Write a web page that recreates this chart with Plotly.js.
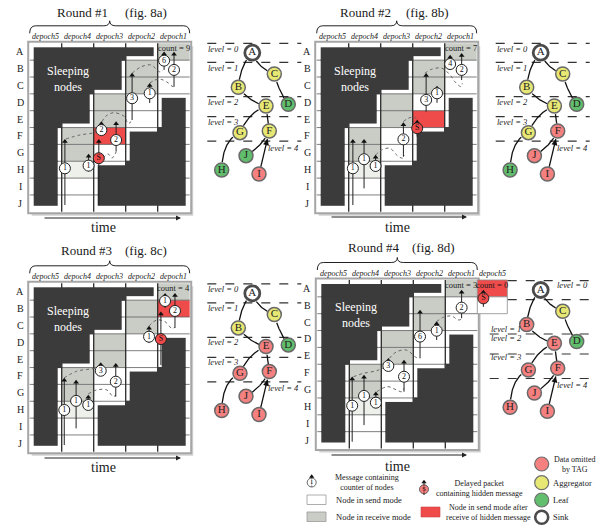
<!DOCTYPE html>
<html><head><meta charset="utf-8">
<script src="https://cdn.plot.ly/plotly-3.0.1.min.js"></script>
<style>html,body{margin:0;padding:0;background:#fff;overflow:hidden}</style>
</head><body><div id="chart" style="width:609px;height:529px"></div>
<script>
// ---------------- DATA ----------------
const rowLabels = ['A','B','C','D','E','F','G','H','I','J'];
const epochLabels = ['depoch5','depoch4','depoch3','depoch2','depoch1'];
const roundTitles = ['Round #1','Round #2','Round #3','Round #4'];
const figLabels = ['(fig. 8a)','(fig. 8b)','(fig. 8c)','(fig. 8d)'];
const counts = [9, 7, 4, 3];
// cell states per row (columns depoch5..depoch1): D sleeping, G receive, W send, R send after hidden msg, L light
const cells1 = ['DDDDG','DDDGW','DDDGW','DDGWD','DDGWD','DGRDD','DGWDD','DLDDD','DWDDD','DWDDD'];
const cells2 = ['DDDDG','DDDGW','DDDGW','DDGWD','DDGRD','DGWDD','DGWDD','DLDDD','DWDDD','DWDDD'];
const cells3 = ['DDDDG','DDDGR','DDDGW','DDGWD','DDGWD','DGWDD','DGWDD','DLDDD','DWDDD','DWDDD'];
const cells4 = ['DDDDG','DDDGW','DDDGW','DDGWD','DDGWD','DGWDD','DGWDD','DLDDD','DWDDD','DWDDD'];
const extraEpoch4 = 'depoch5';
const extraCells4 = ['R','W'];
const extraCount4 = 0;
// messages: [column, circle row, arrow-top row, line-bottom row, label]  (grid units)
const messages1 = [[4.20,1.03,0.50,1.58,'6'],[4.51,1.58,0.52,2.58,'2'],[3.20,3.26,1.76,4.55,'3'],[3.75,2.97,2.37,3.54,'1'],
  [2.24,5.15,4.65,5.32,'2'],[2.70,5.74,4.65,6.43,'2'],[2.16,6.82,5.70,9.60,'S'],[1.84,7.26,6.57,7.62,'1'],[1.10,7.42,5.70,9.60,'1']];
const messages2 = [[4.17,1.23,0.69,1.58,'4'],[4.53,1.58,0.59,2.18,'2'],[3.42,3.36,1.78,4.06,'3'],[3.76,2.97,2.53,3.53,'1'],
  [3.14,5.04,4.55,5.54,'S'],[2.71,5.70,4.71,6.73,'2'],[1.84,7.28,6.63,7.62,'1'],[1.48,6.88,5.70,8.61,'1'],[1.13,7.42,5.70,9.60,'1']];
const messages3 = [[4.23,1.05,0.59,1.47,'1'],[4.54,1.64,0.59,2.65,'2'],[3.73,3.17,2.53,3.54,'1'],[4.10,3.31,1.69,4.85,'S'],
  [2.22,5.19,4.71,5.44,'3'],[2.69,5.84,4.75,6.73,'2'],[1.83,7.22,6.63,7.52,'1'],[1.45,6.98,5.74,8.61,'1'],[1.08,7.52,5.62,9.60,'1']];
const messages4 = [[4.51,1.64,0.59,2.27,'2'],[3.73,3.01,2.47,3.56,'1'],[3.21,3.36,1.78,4.65,'6'],[2.22,5.10,4.65,5.34,'3'],
  [2.71,5.74,4.75,6.63,'2'],[1.46,6.88,5.64,8.61,'1'],[1.83,7.28,6.63,7.62,'1'],[1.09,7.46,5.74,9.60,'1'],[5.19,1.09,0.59,1.59,'S']];
// dotted aggregation flows (grid units)
const flows1 = [[[1.13,5.68],[1.57,5.44],[1.98,5.32],[2.13,5.2]],
  [[2.29,6.81],[2.45,6.57],[2.57,6.81],[2.70,6.45]],
  [[2.26,4.65],[2.39,4.31],[2.63,4.12],[2.97,4.36],[3.07,4.76],[3.17,4.65]],
  [[3.2,1.78],[3.49,1.39],[3.80,1.29],[4.06,1.69],[4.17,1.58]],
  [[3.75,2.37],[3.91,2.18],[4.11,2.14],[4.32,2.34],[4.48,2.57],[4.53,2.47]]];
const flows2 = [[[1.84,6.63],[2.03,6.33],[2.29,6.23],[2.50,6.63],[2.68,6.82],[2.74,6.63]],
  [[2.71,4.65],[2.86,4.45],[3.07,4.39],[3.13,4.55]],
  [[3.38,1.78],[3.59,1.54],[3.91,1.48],[4.17,1.88],[4.32,2.28],[4.51,2.57],[4.55,2.37]]];
const flows3 = [[[1.07,5.62],[1.47,5.22],[1.88,5.09],[2.15,5.03]],
  [[1.83,6.57],[2.09,6.33],[2.41,6.33],[2.61,6.73],[2.69,6.63]],
  [[3.73,2.53],[3.97,2.18],[4.23,2.28],[4.44,2.67],[4.54,2.61]]];
const flows4 = [[[1.13,5.74],[1.44,5.54],[1.86,5.38],[2.19,5.10]],
  [[1.86,6.63],[2.19,6.33],[2.48,6.53],[2.64,6.63],[2.71,6.43]],
  [[2.25,4.65],[2.48,4.26],[2.79,4.16],[3.05,4.55],[3.16,4.65]],
  [[3.73,2.47],[3.94,2.21],[4.20,2.14],[4.40,2.37],[4.51,2.33]]];
// trees
const nodeNames = ['A','B','C','D','E','F','G','H','I','J'];
const treeRoles1 = ['sink','agg','agg','leaf','agg','agg','agg','leaf','omit','leaf'];
const treeRoles2 = ['sink','agg','agg','leaf','agg','omit','agg','leaf','omit','omit'];
const treeRoles3 = ['sink','agg','agg','leaf','omit','omit','omit','omit','omit','omit'];
const treeRoles4 = ['sink','omit','agg','leaf','omit','omit','omit','omit','omit','omit'];
const treeEdges = [['B','A'],['C','A'],['D','C'],['E','B'],['G','E'],['F','E'],['H','G'],['J','F'],['I','F']];
const levelNames = ['level = 0','level = 1','level = 2','level = 3','level = 4'];
// legend
const legendCells = [['W','Node in send mode'],['G','Node in receive mode']];
const legendRoles = [['omit','Data omitted<br>by TAG'],['agg','Aggregator'],['leaf','Leaf'],['sink','Sink']];
const legendMessage = 'Message containing<br>counter of nodes';
const legendDelayed = 'Delayed packet<br>containing hidden message';
const legendRedCell = 'Node in send mode after<br>receive of hidden message';

// ---------------- LAYOUT / STYLE ----------------
const SERIF = '"Liberation Serif", "DejaVu Serif", serif';
const CW = 32, RH = 16.85, PAD = 4;
const COL = {G:'#c9cdc6', R:'#f04b4b', L:'#eef0eb', D:'#3b3b3b', W:'#ffffff'};
const ROLE = {sink:'#ffffff', agg:'#dede3a', leaf:'#1fa32e', omit:'#f04b4b'};
const PANELS = [
  {x0:29.7, y0:43.3, rowX:20, roundX:82, figX:146, titleY:12, timeX:103, timeY:227, arrowY:218, ax0:43, ax1:181},
  {x0:316.7, y0:43.3, rowX:307, roundX:365, figX:427, titleY:12, timeX:397, timeY:227, arrowY:217, ax0:330, ax1:467},
  {x0:29.7, y0:283.3, rowX:20, roundX:86, figX:146, titleY:250, timeX:103, timeY:467, arrowY:458, ax0:43, ax1:181},
  {x0:317.3, y0:280, rowX:307, roundX:373, figX:433, titleY:247, timeX:397, timeY:466, arrowY:455, ax0:330, ax1:467}
];
const CELLS = [cells1, cells2, cells3, cells4];
const MSGS = [messages1, messages2, messages3, messages4];
const FLOWS = [flows1, flows2, flows3, flows4];
const NODE_DX = [0,-14,22,36,13.7,17,-12.3,-30.6,6.7,-6.3];
const NODE_DY = [0,34.6,21.3,51.6,53.3,78.3,80,117.3,121.3,103];
const EDGE_CTRL = [[-12,12],[5,15],[27,40],[-2,50],[-4,60],[15.3,65.8],[-30,87.3],[9.4,94],[12,100]];
const LEVEL_Y = [-9.4, 9.6, 44, 64, 88.5];
const TREES = [
  {ax:252.3, ay:52.7, roles:treeRoles1, lx0:[-45,-45,-45,-45,-45], labels:[['L',-4],['L',15],['L',49],['L',69],['R',95]], lblL:-45},
  {ax:540.7, ay:52.7, roles:treeRoles2, lx0:[-45,-45,-45,-45,-45], labels:[['L',-4],['L',15],['L',49],['L',69],['R',95]], lblL:-45},
  {ax:252.3, ay:293.3, roles:treeRoles3, lx0:[-45,-45,-45,-45,-45], labels:[['L',-4],['L',15],['L',49],['L',69],['R',95]], lblL:-45},
  {ax:540.7, ay:290, roles:treeRoles4, lx0:[-33,-33,-51,-51,-51], labels:[['R',-5],['L',39],['L',48],['L',67],['R',95]], lblL:-51}
];

const shapes = [], anns = [], traces = [];
function rect(x0,y0,x1,y1,fill,lc,lw){shapes.push({type:'rect',xref:'x',yref:'y',x0,y0,x1,y1,fillcolor:fill,line:{color:lc||fill,width:lc?(lw||1):0},layer:'below'});}
function seg(x0,y0,x1,y1,c,w,dash){shapes.push({type:'line',xref:'x',yref:'y',x0,y0,x1,y1,line:{color:c,width:w,dash:dash||'solid'},layer:'below'});}
function txt(x,y,text,size,o){anns.push(Object.assign({x,y,xref:'x',yref:'y',text,showarrow:false,font:{size,color:'#1a1a1a',family:SERIF},xanchor:'center',yanchor:'middle',borderpad:0},o||{}));}
function arrowAnn(hx,hy,tx,ty,w,c){anns.push({x:hx,y:hy,ax:tx,ay:ty,xref:'x',yref:'y',axref:'x',ayref:'y',showarrow:true,arrowhead:2,arrowsize:1,arrowwidth:w,arrowcolor:c,text:'',standoff:0});}

// ---------------- PANELS ----------------
PANELS.forEach((P,i)=>{
  const cells = CELLS[i], X0=P.x0, Y0=P.y0, X1=X0+5*CW, Y1=Y0+10*RH;
  const gx=c=>X0+c*CW, gy=r=>Y0+r*RH;
  txt(P.roundX,P.titleY,roundTitles[i],13);
  txt(P.figX,P.titleY,figLabels[i],13);
  const xm=(X0+X1)/2, yb=Y0-10, yf=Y0-17.5, yt=Y0-22.5;
  shapes.push({type:'path',xref:'x',yref:'y',layer:'below',line:{color:'#222',width:1},
    path:`M ${X0},${yb} Q ${X0},${yf} ${X0+6},${yf} L ${xm-6},${yf} Q ${xm},${yf} ${xm},${yt} Q ${xm},${yf} ${xm+6},${yf} L ${X1-6},${yf} Q ${X1},${yf} ${X1},${yb}`});
  epochLabels.forEach((e,c)=>txt(gx(c+0.5),Y0-6.6,'<i>'+e+'</i>',8));
  rowLabels.forEach((r,k)=>txt(P.rowX,gy(k+0.5),r,10));
  rect(X0+2,Y0+3,X1+3.5,Y1+4,'#d2d2d2');
  rect(X0-1.5,Y0-1.5,X1+1.5,Y1+1.5,'#ffffff','#a6a6a6',2);
  for(let r=0;r<10;r++)for(let c=0;c<5;c++){const s=cells[r][c]; if('GRL'.includes(s)) rect(gx(c),gy(r),gx(c+1),gy(r+1),COL[s]);}
  if(i===3){
    extraCells4.forEach((s,r)=>rect(X1,gy(r),X1+30,gy(r+1),COL[s],'#8a8a8a',0.8));
    txt(X1+15,Y0-6.6,'<i>'+extraEpoch4+'</i>',8);
    txt(X1+15,gy(0.3),'count = '+extraCount4,8.5);
  }
  for(let r=1;r<10;r++) seg(X0,gy(r),X1,gy(r),'#5e5e5e',0.8);
  for(let c=1;c<5;c++) seg(gx(c),Y0,gx(c),Y1,'#2a2a2a',1.3);
  const isD=(r,c)=>r>=0&&r<10&&c>=0&&c<5&&cells[r][c]==='D';
  for(let r=0;r<10;r++)for(let c=0;c<5;c++){ if(!isD(r,c))continue;
    const x0=gx(c)+(isD(r,c-1)?-0.5:PAD), x1=gx(c+1)-(isD(r,c+1)?-0.5:PAD);
    const y0=gy(r)+(isD(r-1,c)?-0.5:PAD), y1=gy(r+1)-(isD(r+1,c)?-0.5:(r===9?6:PAD));
    rect(x0,y0,x1,y1,COL.D);
  }
  txt(gx(1.2),gy(2.1),'Sleeping<br>nodes',12,{font:{size:12,color:'#ffffff',family:SERIF}});
  txt(gx(4.5),gy(0.3),'count = '+counts[i],8.5);
  arrowAnn(P.ax1,P.arrowY,P.ax0,P.arrowY,1,'#222');
  txt(P.timeX,P.timeY,'time',14);
  const fx=[],fy=[];
  FLOWS[i].forEach(f=>{f.forEach(p=>{fx.push(gx(p[0]));fy.push(gy(p[1]));});fx.push(null);fy.push(null);});
  traces.push({x:fx,y:fy,mode:'lines',line:{color:'#666',width:1,dash:'dot',shape:'spline'},hoverinfo:'skip'});
  const lx=[],ly=[],tx=[],ty=[],cx=[],cy=[],ct=[],cf=[];
  MSGS[i].forEach(m=>{const x=gx(m[0]);
    lx.push(x,x,null); ly.push(gy(m[2])+2,gy(m[3]),null);
    tx.push(x); ty.push(gy(m[2])+2.2);
    cx.push(x); cy.push(gy(m[1])); ct.push(m[4]); cf.push(m[4]==='S'?COL.R:'#ffffff');});
  traces.push({x:lx,y:ly,mode:'lines',line:{color:'#222',width:1},hoverinfo:'skip'});
  traces.push({x:tx,y:ty,mode:'markers',marker:{symbol:'triangle-up',size:5,color:'#111'},hoverinfo:'skip'});
  traces.push({x:cx,y:cy,mode:'markers+text',text:ct,textposition:'middle center',textfont:{size:8,family:SERIF,color:'#111'},
    marker:{size:11,color:cf,line:{color:'#222',width:1}},hoverinfo:'skip'});
});

// ---------------- TREES ----------------
function bez(p0,c,p1,t){const u=1-t;return [u*u*p0[0]+2*u*t*c[0]+t*t*p1[0],u*u*p0[1]+2*u*t*c[1]+t*t*p1[1]];}
function dist(a,b){return Math.hypot(a[0]-b[0],a[1]-b[1]);}
TREES.forEach(T=>{
  LEVEL_Y.forEach((ly,k)=>seg(T.ax+T.lx0[k],T.ay+ly,T.ax+49,T.ay+ly,'#333',1.2,'dash'));
  T.labels.forEach((l,k)=>{
    if(l[0]==='L') txt(T.ax+T.lblL,T.ay+l[1],'<i>'+levelNames[k]+'</i>',8.5,{xanchor:'left'});
    else txt(T.ax+48,T.ay+l[1],'<i>'+levelNames[k]+'</i>',8.5,{xanchor:'right'});
  });
  const ex=[],ey=[];
  treeEdges.forEach(([a,b],k)=>{
    const ia=nodeNames.indexOf(a), ib=nodeNames.indexOf(b);
    const p0=[T.ax+NODE_DX[ia],T.ay+NODE_DY[ia]], p1=[T.ax+NODE_DX[ib],T.ay+NODE_DY[ib]];
    const c=[T.ax+EDGE_CTRL[k][0],T.ay+EDGE_CTRL[k][1]];
    const r1 = ib===0?9:8;
    const pts=[];
    for(let s=0;s<=80;s++){const p=bez(p0,c,p1,s/80); if(dist(p,p0)>7.5&&dist(p,p1)>r1) pts.push(p);}
    pts.forEach(p=>{ex.push(p[0]);ey.push(p[1]);}); ex.push(null); ey.push(null);
    const head=pts[pts.length-1], tail=pts[Math.max(0,pts.length-8)];
    arrowAnn(head[0],head[1],tail[0],tail[1],1.2,'#111');
  });
  traces.push({x:ex,y:ey,mode:'lines',line:{color:'#111',width:1.3},hoverinfo:'skip'});
  traces.push({x:NODE_DX.map(d=>T.ax+d),y:NODE_DY.map(d=>T.ay+d),mode:'markers+text',text:nodeNames,
    textposition:'middle center',textfont:{size:11,family:SERIF,color:'#222'},
    marker:{size:T.roles.map(r=>r==='sink'?15:14),color:T.roles.map(r=>ROLE[r]),
      line:{color:T.roles.map(r=>r==='sink'?'#000':'#2b2b2b'),width:T.roles.map(r=>r==='sink'?2.8:1.5)}},hoverinfo:'skip'});
});

// ---------------- LEGEND ----------------
traces.push({x:[311.7,311.7],y:[476,487],mode:'lines',line:{color:'#222',width:1},hoverinfo:'skip'});
traces.push({x:[311.7,424],y:[476.5,482],mode:'markers',marker:{symbol:'triangle-up',size:4.5,color:'#111'},hoverinfo:'skip'});
traces.push({x:[424,424],y:[482,495],mode:'lines',line:{color:'#222',width:1},hoverinfo:'skip'});
traces.push({x:[311.7,424],y:[482.5,489.3],mode:'markers+text',text:['1','S'],textposition:'middle center',
  textfont:{size:6.5,family:SERIF,color:'#111'},marker:{size:[9,9],color:['#ffffff',COL.R],line:{color:'#222',width:1}},hoverinfo:'skip'});
txt(367,482,legendMessage,8);
legendCells.forEach((l,k)=>{const y0=k===0?495:512; rect(307,y0,326,y0+9.5,COL[l[0]],'#999',0.8); txt(334.5,y0+4.8,l[1],8.5,{xanchor:'left'});});
txt(479,488,legendDelayed,8);
rect(421,507,440,517,COL.R,'#c44',0.6);
txt(488,512,legendRedCell,8);
const lgY=[464,482.7,500,517.3];
traces.push({x:lgY.map(()=>541.7),y:lgY,mode:'markers',
  marker:{size:legendRoles.map(r=>r[0]==='sink'?13:14),color:legendRoles.map(r=>ROLE[r[0]]),
    line:{color:legendRoles.map(r=>r[0]==='sink'?'#000':'#333'),width:legendRoles.map(r=>r[0]==='sink'?2.6:1.2)}},hoverinfo:'skip'});
legendRoles.forEach((r,k)=>{
  if(k===0) txt(575,464,r[1],8);
  else txt(551.5,lgY[k],r[1],8.5,{xanchor:'left'});
});

const layout = {
  width:609, height:529, margin:{l:0,r:0,t:0,b:0,pad:0},
  paper_bgcolor:'#ffffff', plot_bgcolor:'#ffffff', showlegend:false,
  font:{family:SERIF},
  xaxis:{range:[0,609],visible:false,fixedrange:true},
  yaxis:{range:[529,0],visible:false,fixedrange:true},
  shapes, annotations:anns
};
Plotly.newPlot('chart',traces,layout,{staticPlot:true,displayModeBar:false});
</script>
</body></html>
